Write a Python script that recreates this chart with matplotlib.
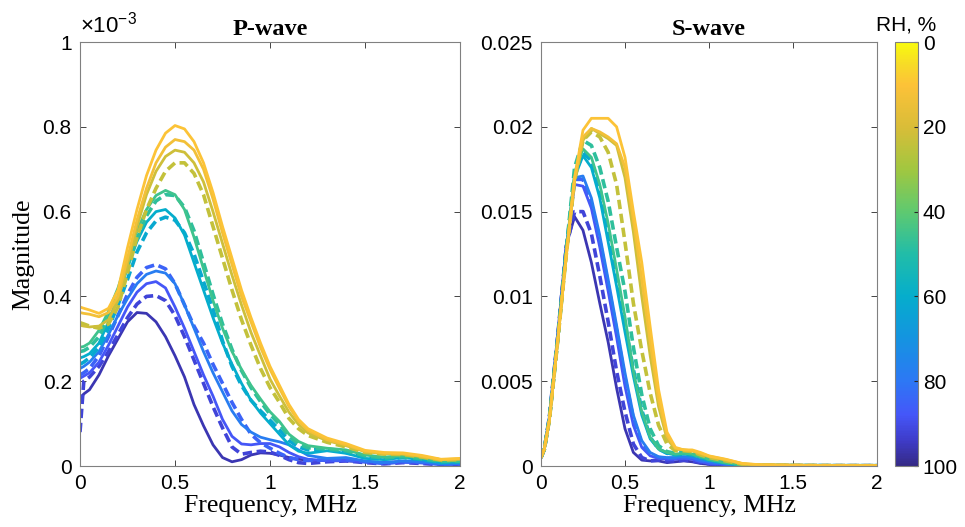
import numpy as np
import matplotlib.pyplot as plt
from matplotlib.colors import LinearSegmentedColormap, Normalize
from matplotlib.cm import ScalarMappable
from matplotlib.ticker import FormatStrFormatter

# frequency grids, MHz
freq_p = [0, 0.02, 0.05, 0.1, 0.15, 0.2, 0.25, 0.3, 0.35, 0.4, 0.45, 0.5, 0.55, 0.6, 0.65, 0.7,
          0.75, 0.8, 0.85, 0.9, 0.95, 1.0, 1.05, 1.1, 1.15, 1.2, 1.3, 1.4, 1.5, 1.6, 1.7, 1.8, 1.9, 2.0]
freq_s = [0, 0.02, 0.05, 0.1, 0.15, 0.2, 0.25, 0.3, 0.35, 0.4, 0.45, 0.5, 0.55, 0.6, 0.65, 0.7,
          0.75, 0.8, 0.85, 0.9, 0.95, 1.0, 1.1, 1.2, 1.3, 1.5, 1.75, 2.0]

# relative humidity of each curve and its line style
rh = [10, 13, 22, 24, 45, 48, 60, 62, 78, 85, 88, 92, 96]
styles = ['-', '-', '-', '--', '-', '--', '-', '--', '-', '--', '-', '--', '-']

# P-wave magnitude, x1e-3
p_wave = [
    [0.375, 0.372, 0.368, 0.360, 0.372, 0.415, 0.515, 0.605, 0.685, 0.745, 0.785, 0.803, 0.795, 0.765, 0.715, 0.645, 0.565, 0.49, 0.415, 0.35, 0.29, 0.235, 0.19, 0.145, 0.11, 0.088, 0.066, 0.053, 0.037, 0.032, 0.031, 0.025, 0.016, 0.018],
    [0.362, 0.360, 0.358, 0.352, 0.362, 0.40, 0.49, 0.58, 0.655, 0.715, 0.752, 0.77, 0.765, 0.745, 0.70, 0.63, 0.55, 0.475, 0.40, 0.34, 0.28, 0.228, 0.183, 0.14, 0.106, 0.084, 0.062, 0.05, 0.035, 0.03, 0.029, 0.023, 0.015, 0.017],
    [0.332, 0.330, 0.328, 0.330, 0.345, 0.39, 0.475, 0.565, 0.64, 0.695, 0.73, 0.745, 0.74, 0.715, 0.67, 0.60, 0.525, 0.45, 0.38, 0.315, 0.26, 0.205, 0.165, 0.127, 0.098, 0.078, 0.06, 0.048, 0.034, 0.029, 0.028, 0.022, 0.015, 0.016],
    [0.338, 0.335, 0.33, 0.325, 0.335, 0.375, 0.455, 0.54, 0.605, 0.655, 0.695, 0.715, 0.715, 0.69, 0.64, 0.565, 0.49, 0.415, 0.345, 0.285, 0.23, 0.185, 0.15, 0.112, 0.088, 0.072, 0.056, 0.045, 0.032, 0.028, 0.027, 0.021, 0.014, 0.015],
    [0.28, 0.282, 0.29, 0.32, 0.365, 0.42, 0.49, 0.555, 0.605, 0.638, 0.65, 0.64, 0.605, 0.54, 0.465, 0.39, 0.325, 0.27, 0.228, 0.19, 0.158, 0.128, 0.105, 0.075, 0.058, 0.048, 0.042, 0.038, 0.026, 0.021, 0.024, 0.019, 0.012, 0.012],
    [0.27, 0.272, 0.28, 0.305, 0.35, 0.405, 0.47, 0.535, 0.59, 0.625, 0.64, 0.638, 0.61, 0.555, 0.48, 0.405, 0.335, 0.275, 0.225, 0.185, 0.152, 0.122, 0.098, 0.07, 0.052, 0.043, 0.04, 0.036, 0.024, 0.019, 0.022, 0.017, 0.011, 0.011],
    [0.255, 0.258, 0.265, 0.29, 0.34, 0.40, 0.47, 0.53, 0.575, 0.60, 0.605, 0.585, 0.545, 0.48, 0.415, 0.35, 0.29, 0.24, 0.195, 0.155, 0.125, 0.10, 0.075, 0.05, 0.035, 0.03, 0.036, 0.03, 0.018, 0.015, 0.02, 0.015, 0.008, 0.01],
    [0.24, 0.245, 0.255, 0.28, 0.325, 0.38, 0.44, 0.505, 0.55, 0.578, 0.587, 0.58, 0.55, 0.50, 0.435, 0.37, 0.295, 0.235, 0.19, 0.155, 0.13, 0.108, 0.085, 0.06, 0.045, 0.038, 0.04, 0.032, 0.02, 0.016, 0.02, 0.015, 0.008, 0.01],
    [0.23, 0.235, 0.245, 0.27, 0.31, 0.355, 0.395, 0.43, 0.452, 0.46, 0.455, 0.43, 0.38, 0.325, 0.27, 0.22, 0.175, 0.13, 0.098, 0.08, 0.068, 0.062, 0.057, 0.05, 0.038, 0.025, 0.018, 0.02, 0.012, 0.008, 0.012, 0.01, 0.005, 0.006],
    [0.215, 0.22, 0.23, 0.26, 0.305, 0.355, 0.405, 0.445, 0.468, 0.475, 0.465, 0.43, 0.38, 0.33, 0.29, 0.24, 0.195, 0.15, 0.11, 0.075, 0.055, 0.042, 0.03, 0.02, 0.015, 0.013, 0.015, 0.015, 0.01, 0.006, 0.01, 0.008, 0.004, 0.005],
    [0.207, 0.212, 0.22, 0.245, 0.285, 0.33, 0.375, 0.41, 0.43, 0.435, 0.42, 0.375, 0.325, 0.27, 0.215, 0.165, 0.11, 0.07, 0.052, 0.05, 0.053, 0.053, 0.045, 0.032, 0.022, 0.016, 0.012, 0.013, 0.01, 0.007, 0.009, 0.008, 0.004, 0.005],
    [0.08, 0.2, 0.21, 0.235, 0.27, 0.31, 0.35, 0.382, 0.4, 0.402, 0.39, 0.355, 0.305, 0.25, 0.195, 0.14, 0.09, 0.045, 0.028, 0.032, 0.035, 0.033, 0.025, 0.015, 0.008, 0.006, 0.01, 0.012, 0.008, 0.005, 0.008, 0.006, 0.003, 0.004],
    [0.16, 0.17, 0.18, 0.215, 0.26, 0.3, 0.34, 0.362, 0.36, 0.34, 0.305, 0.26, 0.21, 0.145, 0.095, 0.05, 0.02, 0.01, 0.015, 0.026, 0.031, 0.03, 0.026, 0.02, 0.016, 0.014, 0.013, 0.012, 0.01, 0.008, 0.01, 0.01, 0.008, 0.009],
]

# S-wave magnitude, x1e-3
s_wave = [
    [0.5, 1.0, 2.7, 7.4, 12.3, 17.0, 19.8, 20.5, 20.5, 20.5, 20.0, 18.2, 15.0, 12.0, 8.2, 4.5, 2.0, 1.1, 0.95, 0.95, 0.8, 0.6, 0.4, 0.15, 0.08, 0.05, 0.03, 0.02],
    [0.5, 1.0, 2.7, 7.4, 12.4, 16.9, 19.4, 19.9, 19.7, 19.4, 19.0, 17.6, 14.5, 11.0, 7.3, 3.9, 1.8, 1.05, 0.95, 0.9, 0.75, 0.58, 0.38, 0.14, 0.07, 0.05, 0.03, 0.02],
    [0.5, 1.0, 2.7, 7.4, 12.4, 16.8, 19.2, 19.9, 19.6, 19.3, 18.9, 17.0, 13.8, 10.0, 6.5, 3.5, 1.6, 1.0, 0.95, 0.9, 0.7, 0.55, 0.35, 0.12, 0.06, 0.04, 0.03, 0.02],
    [0.5, 1.0, 2.7, 7.4, 12.4, 16.8, 19.2, 19.7, 19.4, 18.5, 16.6, 13.2, 9.6, 6.8, 4.3, 2.4, 1.3, 0.9, 0.9, 0.85, 0.65, 0.5, 0.3, 0.1, 0.05, 0.04, 0.03, 0.02],
    [0.5, 1.0, 2.8, 7.5, 12.6, 17.3, 18.7, 18.2, 16.6, 14.3, 11.6, 8.8, 5.6, 3.2, 1.7, 1.0, 0.8, 0.7, 0.75, 0.7, 0.55, 0.4, 0.2, 0.08, 0.05, 0.03, 0.02, 0.02],
    [0.5, 1.0, 2.8, 7.5, 12.7, 17.6, 19.2, 18.9, 17.6, 15.6, 12.9, 10.3, 7.0, 4.2, 2.2, 1.2, 0.85, 0.75, 0.8, 0.72, 0.55, 0.4, 0.2, 0.08, 0.05, 0.03, 0.02, 0.02],
    [0.5, 1.0, 2.8, 7.5, 12.6, 17.0, 18.3, 17.6, 15.8, 13.2, 10.6, 7.9, 5.3, 3.0, 1.6, 1.0, 0.75, 0.65, 0.7, 0.65, 0.5, 0.35, 0.18, 0.07, 0.04, 0.03, 0.02, 0.02],
    [0.5, 1.0, 2.8, 7.5, 12.6, 17.1, 18.5, 18.0, 16.4, 13.9, 11.2, 8.4, 5.7, 3.3, 1.7, 1.0, 0.75, 0.65, 0.7, 0.65, 0.5, 0.35, 0.18, 0.07, 0.04, 0.03, 0.02, 0.02],
    [0.5, 1.0, 2.8, 7.5, 12.7, 17.0, 17.1, 15.8, 13.6, 11.0, 8.3, 5.5, 3.0, 1.5, 0.8, 0.55, 0.5, 0.5, 0.55, 0.5, 0.35, 0.25, 0.12, 0.05, 0.03, 0.02, 0.02, 0.02],
    [0.5, 1.0, 2.8, 7.6, 12.8, 16.9, 16.9, 15.5, 13.3, 10.7, 8.0, 5.2, 2.8, 1.3, 0.7, 0.5, 0.45, 0.45, 0.5, 0.45, 0.3, 0.2, 0.1, 0.04, 0.03, 0.02, 0.02, 0.02],
    [0.5, 1.0, 2.8, 7.6, 12.8, 16.6, 16.5, 15.2, 12.9, 10.3, 7.6, 4.7, 2.4, 1.1, 0.6, 0.45, 0.4, 0.4, 0.45, 0.4, 0.25, 0.15, 0.08, 0.04, 0.03, 0.02, 0.02, 0.02],
    [0.5, 1.0, 2.9, 7.7, 12.9, 15.0, 15.0, 13.7, 11.2, 8.5, 5.6, 3.2, 1.3, 0.5, 0.3, 0.35, 0.3, 0.3, 0.35, 0.3, 0.2, 0.12, 0.06, 0.03, 0.02, 0.02, 0.02, 0.02],
    [0.5, 1.0, 2.9, 7.8, 13.0, 14.7, 13.9, 12.0, 9.6, 7.3, 4.6, 2.2, 0.8, 0.35, 0.3, 0.3, 0.2, 0.25, 0.3, 0.25, 0.15, 0.1, 0.05, 0.03, 0.02, 0.02, 0.02, 0.02],
]

# parula-like colormap
parula = LinearSegmentedColormap.from_list('parula', [
    (0.00, (0.208, 0.166, 0.529)),
    (0.06, (0.245, 0.235, 0.790)),
    (0.12, (0.270, 0.340, 0.975)),
    (0.20, (0.175, 0.470, 0.960)),
    (0.30, (0.080, 0.580, 0.880)),
    (0.40, (0.020, 0.680, 0.800)),
    (0.50, (0.130, 0.740, 0.660)),
    (0.60, (0.370, 0.790, 0.440)),
    (0.70, (0.630, 0.780, 0.250)),
    (0.80, (0.850, 0.740, 0.220)),
    (0.90, (0.990, 0.760, 0.220)),
    (0.95, (0.970, 0.860, 0.150)),
    (1.00, (0.976, 0.984, 0.054)),
])
cmap = parula.reversed()
norm = Normalize(0, 100)

plt.rcParams['font.family'] = 'Liberation Sans'
serif = 'Liberation Serif'

fig = plt.figure(figsize=(9.65, 5.27), dpi=100)
ax1 = fig.add_axes([0.0829, 0.1157, 0.3938, 0.8046])
ax2 = fig.add_axes([0.5606, 0.1157, 0.3482, 0.8046])
cax = fig.add_axes([0.9275, 0.1157, 0.0238, 0.8046])

# draw wettest first so the dry curves sit on top
for i in range(len(rh) - 1, -1, -1):
    c = cmap(norm(rh[i]))
    if styles[i] == '--':
        kw = dict(color=c, lw=2.6, ls='--', dashes=(2.6, 1.3))
    else:
        kw = dict(color=c, lw=2.0, ls='-')
    ax1.plot(freq_p, p_wave[i], **kw)
    ax2.plot(freq_s, np.array(s_wave[i]) * 1e-3, **kw)

for ax in (ax1, ax2):
    ax.set_xlim(0, 2)
    ax.set_xticks([0, 0.5, 1, 1.5, 2])
    ax.xaxis.set_major_formatter(FormatStrFormatter('%g'))
    ax.yaxis.set_major_formatter(FormatStrFormatter('%g'))
    ax.tick_params(direction='in', top=True, right=True, labelsize=15, length=4,
                   color='#262626', width=0.6, pad=6)
    for s in ax.spines.values():
        s.set_color('#808080')
        s.set_linewidth(0.8)
    ax.set_xlabel('Frequency, MHz', family=serif, fontsize=18.5, labelpad=1)

ax1.set_ylim(0, 1)
ax1.set_yticks([0, 0.2, 0.4, 0.6, 0.8, 1])
ax1.set_ylabel('Magnitude', family=serif, fontsize=18.5, labelpad=6)
ax1.set_title('P-wave', family=serif, fontweight='bold', fontsize=17.5, pad=5)
ax1.text(0.0, 1.01, '×10$^{\\mathregular{-3}}$', transform=ax1.transAxes,
         fontsize=16, ha='left', va='bottom')

ax2.set_ylim(0, 0.025)
ax2.set_yticks([0, 0.005, 0.01, 0.015, 0.02, 0.025])
ax2.set_title('S-wave', family=serif, fontweight='bold', fontsize=17.5, pad=5)

sm = ScalarMappable(norm=norm, cmap=cmap)
cb = fig.colorbar(sm, cax=cax, ticks=[0, 20, 40, 60, 80, 100])
cax.invert_yaxis()
cax.tick_params(labelsize=15, direction='in', length=3, color='#262626')
cb.outline.set_edgecolor('#808080')
cax.set_title('RH, %', fontsize=15, pad=8)

fig.savefig('out.png', dpi=100)
